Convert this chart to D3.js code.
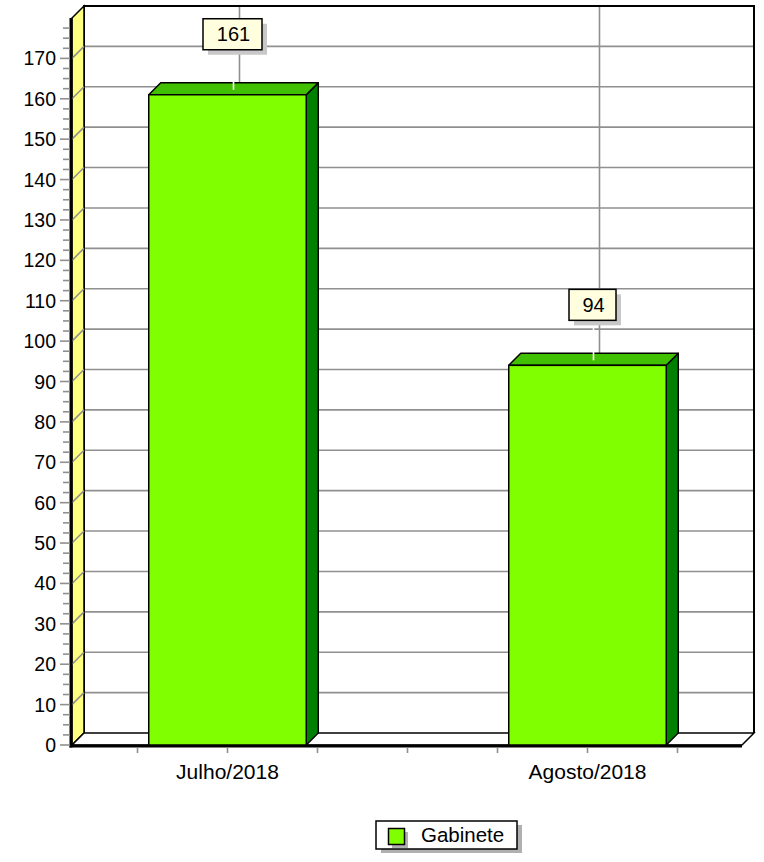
<!DOCTYPE html>
<html>
<head>
<meta charset="utf-8">
<script src="https://cdn.jsdelivr.net/npm/d3@7"></script>
<style>
  html, body { margin: 0; padding: 0; background: #ffffff; }
  svg { display: block; }
  text { font-family: Arial, "Liberation Sans", sans-serif; fill: #000; }
</style>
</head>
<body>
<svg id="chart" width="764" height="862"></svg>
<script>
// ---- data ----
const categories = ["Julho/2018", "Agosto/2018"];
const seriesName = "Gabinete";
const values = [161, 94];
const yTicks = [0, 10, 20, 30, 40, 50, 60, 70, 80, 90, 100, 110, 120, 130, 140, 150, 160, 170];
const yMax = 180;

// ---- layout ----
const svg = d3.select("#chart");
const D = 12;              // 3D depth offset
const plotLeft = 72, plotRight = 742;
const y = d3.scaleLinear().domain([0, yMax]).range([745, 18]);
const x = d3.scaleBand().domain(categories).range([47.5, 767.5]).paddingInner(0).paddingOuter(0);
const barW = x.bandwidth() * 0.4375;
const cx = c => x(c) + x.bandwidth() / 2;

const gridColor = "#909090";
const backTop = y(yMax) - D;
const backBottom = y(0) - D;
const backLeft = plotLeft + D;
const backRight = plotRight + D;

// back wall horizontal gridlines
const gGrid = svg.append("g");
gGrid.selectAll("line.h").data(yTicks.filter(v => v > 0)).join("line")
  .attr("x1", backLeft).attr("x2", backRight)
  .attr("y1", d => y(d) - D).attr("y2", d => y(d) - D)
  .attr("stroke", gridColor).attr("stroke-width", 1.6);
// back wall vertical gridlines at category centres
gGrid.selectAll("line.v").data(categories).join("line")
  .attr("x1", d => cx(d) + D).attr("x2", d => cx(d) + D)
  .attr("y1", backTop).attr("y2", backBottom)
  .attr("stroke", gridColor).attr("stroke-width", 1.6);

// back wall border
svg.append("path")
  .attr("d", `M${backLeft},${backBottom} L${backLeft},${backTop} L${backRight},${backTop} L${backRight},${backBottom}`)
  .attr("fill", "none").attr("stroke", "#000").attr("stroke-width", 2);

// left wall (yellow)
svg.append("path")
  .attr("d", `M${plotLeft},${y(yMax)} L${backLeft},${backTop} L${backLeft},${backBottom} L${plotLeft},${y(0)} Z`)
  .attr("fill", "#ffff80").attr("stroke", "#000").attr("stroke-width", 1.5);
// diagonals on left wall
svg.append("g").selectAll("line").data(yTicks.filter(v => v > 0)).join("line")
  .attr("x1", plotLeft).attr("x2", backLeft)
  .attr("y1", d => y(d)).attr("y2", d => y(d) - D)
  .attr("stroke", gridColor).attr("stroke-width", 1.6);

// floor
svg.append("path")
  .attr("d", `M${plotLeft},${y(0)} L${backLeft},${backBottom} L${backRight},${backBottom} L${plotRight},${y(0)} Z`)
  .attr("fill", "#ffffff").attr("stroke", "#000").attr("stroke-width", 1.5);

// front axis thick lines
svg.append("line").attr("x1", plotLeft - 1).attr("x2", plotLeft - 1)
  .attr("y1", y(yMax)).attr("y2", y(0) + 2.5)
  .attr("stroke", "#000").attr("stroke-width", 3);
svg.append("line").attr("x1", plotLeft - 2.5).attr("x2", plotRight)
  .attr("y1", y(0) + 1).attr("y2", y(0) + 1)
  .attr("stroke", "#000").attr("stroke-width", 3);

// y-axis ticks: minor every 2.5, major every 10
const minor = d3.range(0, yMax + 0.01, 2.5).filter(v => v % 10 !== 0);
svg.append("g").selectAll("line").data(minor).join("line")
  .attr("x1", 63).attr("x2", plotLeft - 2)
  .attr("y1", d => y(d)).attr("y2", d => y(d))
  .attr("stroke", gridColor).attr("stroke-width", 1.6);
svg.append("g").selectAll("line").data(yTicks).join("line")
  .attr("x1", 60).attr("x2", plotLeft - 2)
  .attr("y1", d => y(d)).attr("y2", d => y(d))
  .attr("stroke", gridColor).attr("stroke-width", 1.6);
svg.append("g").selectAll("text").data(yTicks).join("text")
  .attr("x", 56).attr("y", d => y(d))
  .attr("dy", "0.36em")
  .attr("text-anchor", "end")
  .style("font-size", "19.5px")
  .text(d => d);

// x-axis ticks every quarter band
const xTickPos = [];
categories.forEach(c => { for (let k = 0; k < 4; k++) xTickPos.push(x(c) + k * x.bandwidth() / 4); });
svg.append("g").selectAll("line").data(xTickPos.filter(p => p > plotLeft && p < plotRight)).join("line")
  .attr("x1", d => d).attr("x2", d => d)
  .attr("y1", y(0) + 3).attr("y2", y(0) + 8)
  .attr("stroke", gridColor).attr("stroke-width", 1.6);
svg.append("g").selectAll("text").data(categories).join("text")
  .attr("x", d => cx(d)).attr("y", 779)
  .attr("text-anchor", "middle")
  .style("font-size", "21px")
  .text(d => d);

// bars
const gBars = svg.append("g");
categories.forEach((c, i) => {
  const v = values[i];
  const x0 = cx(c) - barW / 2, x1 = cx(c) + barW / 2;
  const yt = y(v), yb = y(0);
  const g = gBars.append("g");
  // side
  g.append("path")
    .attr("d", `M${x1},${yt} L${x1 + D},${yt - D} L${x1 + D},${yb - D} L${x1},${yb} Z`)
    .attr("fill", "#008000").attr("stroke", "#000").attr("stroke-width", 1.5).attr("stroke-linejoin", "round");
  // top
  g.append("path")
    .attr("d", `M${x0},${yt} L${x0 + D},${yt - D} L${x1 + D},${yt - D} L${x1},${yt} Z`)
    .attr("fill", "#40c000").attr("stroke", "#000").attr("stroke-width", 1.5).attr("stroke-linejoin", "round");
  // front
  g.append("rect")
    .attr("x", x0).attr("y", yt).attr("width", barW).attr("height", yb - yt)
    .attr("fill", "#80ff00").attr("stroke", "#000").attr("stroke-width", 1.5);
});

// value labels
const gLab = svg.append("g");
categories.forEach((c, i) => {
  const v = values[i];
  const lx = cx(c) + 5;
  const txt = String(v);
  const w = txt.length === 3 ? 59 : 47, h = 31;
  const boxBottom = y(v) - D - 33;
  // white leader line
  gLab.append("line")
    .attr("x1", lx + 1).attr("x2", lx + 1)
    .attr("y1", boxBottom).attr("y2", y(v) - 5)
    .attr("stroke", "#ffffff").attr("stroke-width", 1.6);
  gLab.append("rect")
    .attr("x", lx - w / 2 + 5).attr("y", boxBottom - h + 5).attr("width", w).attr("height", h)
    .attr("fill", "#c8c8c8");
  gLab.append("rect")
    .attr("x", lx - w / 2).attr("y", boxBottom - h).attr("width", w).attr("height", h)
    .attr("fill", "#ffffe0").attr("stroke", "#000").attr("stroke-width", 1.5);
  gLab.append("text")
    .attr("x", lx + 1).attr("y", boxBottom - h / 2).attr("dy", "0.36em")
    .attr("text-anchor", "middle")
    .style("font-size", "20px")
    .text(txt);
});

// legend
const lg = svg.append("g");
lg.append("rect").attr("x", 381).attr("y", 825).attr("width", 141).attr("height", 28).attr("fill", "#b0b0b0");
lg.append("rect").attr("x", 376).attr("y", 821).attr("width", 141).attr("height", 28)
  .attr("fill", "#ffffff").attr("stroke", "#000").attr("stroke-width", 1.5);
lg.append("rect").attr("x", 392).attr("y", 832).attr("width", 16).attr("height", 16).attr("fill", "#b0b0b0");
lg.append("rect").attr("x", 388.5).attr("y", 828.5).attr("width", 16).attr("height", 16)
  .attr("fill", "#80ff00").attr("stroke", "#000").attr("stroke-width", 1.5);
lg.append("text").attr("x", 421).attr("y", 842)
  .style("font-size", "20.5px")
  .text(seriesName);
</script>
</body>
</html>
